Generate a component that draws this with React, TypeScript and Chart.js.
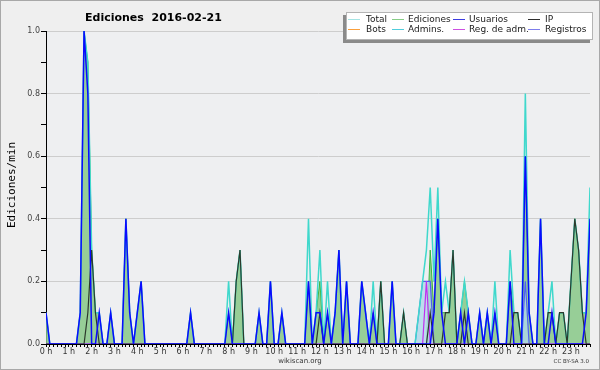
import React, { useEffect, useRef } from 'react';
import { Chart, registerables } from 'chart.js';

Chart.register(...registerables);

const TITLE = 'Ediciones  2016-02-21';
const Y_TITLE = 'Ediciones/min';
const FOOTER = 'wikiscan.org';
const LICENSE = 'CC BY-SA 3.0';

const HOUR_LABELS = [
  '0 h', '1 h', '2 h', '3 h', '4 h', '5 h', '6 h', '7 h', '8 h', '9 h', '10 h', '11 h',
  '12 h', '13 h', '14 h', '15 h', '16 h', '17 h', '18 h', '19 h', '20 h', '21 h', '22 h', '23 h',
];
const Y_LABELS = ['0.0', '0.2', '0.4', '0.6', '0.8', '1.0'];

const LEGEND_NAMES = ['Total', 'Ediciones', 'Usuarios', 'IP', 'Bots', 'Admins.', 'Reg. de adm.', 'Registros'];
const LEGEND_COLORS = [
  'rgb(165,228,228)', 'rgb(135,205,135)', 'rgb(60,60,225)', 'rgb(45,45,45)',
  'rgb(250,160,60)', 'rgb(80,205,220)', 'rgb(205,80,225)', 'rgb(125,125,235)',
];

// edits per minute, one value per 10-minute slot (12 values = 2 hours per row)
const total = [
  0.1, 0, 0, 0, 0, 0, 0, 0, 0, 0.1, 1.0, 0.9,
  0.3, 0.1, 0.1, 0, 0, 0.1, 0, 0, 0, 0.4, 0.1, 0,
  0.1, 0.2, 0, 0, 0, 0, 0, 0, 0, 0, 0, 0,
  0, 0, 0.1, 0, 0, 0, 0, 0, 0, 0, 0, 0,
  0.2, 0, 0.2, 0.3, 0, 0, 0, 0, 0.1, 0, 0, 0.2,
  0, 0, 0.1, 0, 0, 0, 0, 0, 0, 0.4, 0, 0.1,
  0.3, 0, 0.2, 0, 0.1, 0.3, 0, 0.2, 0, 0, 0, 0.2,
  0.1, 0, 0.2, 0, 0.2, 0, 0, 0.2, 0, 0, 0.1, 0,
  0, 0, 0.1, 0.2, 0.3, 0.5, 0.2, 0.5, 0.1, 0.2, 0.1, 0.3,
  0, 0.1, 0.2, 0.1, 0, 0, 0.1, 0, 0.1, 0, 0.2, 0,
  0, 0, 0.3, 0.1, 0.1, 0, 0.8, 0.1, 0, 0, 0.4, 0,
  0.1, 0.2, 0, 0.1, 0.1, 0, 0.2, 0.4, 0.3, 0.1, 0.1, 0.5,
];

const ediciones = [
  0.1, 0, 0, 0, 0, 0, 0, 0, 0, 0.1, 1.0, 0.9,
  0.3, 0.1, 0.1, 0, 0, 0.1, 0, 0, 0, 0.4, 0.1, 0,
  0.1, 0.2, 0, 0, 0, 0, 0, 0, 0, 0, 0, 0,
  0, 0, 0.1, 0, 0, 0, 0, 0, 0, 0, 0, 0,
  0.1, 0, 0.2, 0.3, 0, 0, 0, 0, 0.1, 0, 0, 0.2,
  0, 0, 0.1, 0, 0, 0, 0, 0, 0, 0.2, 0, 0.1,
  0.2, 0, 0.1, 0, 0.1, 0.3, 0, 0.2, 0, 0, 0, 0.2,
  0.1, 0, 0.1, 0, 0.2, 0, 0, 0.2, 0, 0, 0.1, 0,
  0, 0, 0, 0, 0, 0.3, 0.1, 0.4, 0.1, 0.1, 0.1, 0.3,
  0, 0.1, 0.2, 0.1, 0, 0, 0.1, 0, 0.1, 0, 0.1, 0,
  0, 0, 0.2, 0.1, 0.1, 0, 0.6, 0.1, 0, 0, 0.4, 0,
  0.1, 0.1, 0, 0.1, 0.1, 0, 0.2, 0.4, 0.3, 0.1, 0.1, 0.4,
];

const usuarios = [
  0.1, 0, 0, 0, 0, 0, 0, 0, 0, 0.1, 1.0, 0.8,
  0, 0, 0.1, 0, 0, 0.1, 0, 0, 0, 0.4, 0.1, 0,
  0.1, 0.2, 0, 0, 0, 0, 0, 0, 0, 0, 0, 0,
  0, 0, 0.1, 0, 0, 0, 0, 0, 0, 0, 0, 0,
  0.1, 0, 0, 0, 0, 0, 0, 0, 0.1, 0, 0, 0.2,
  0, 0, 0.1, 0, 0, 0, 0, 0, 0, 0.2, 0, 0.1,
  0.1, 0, 0.1, 0, 0.1, 0.3, 0, 0.2, 0, 0, 0, 0.2,
  0.1, 0, 0.1, 0, 0, 0, 0, 0.2, 0, 0, 0, 0,
  0, 0, 0, 0, 0, 0, 0.1, 0.4, 0.1, 0, 0, 0,
  0, 0.1, 0, 0.1, 0, 0, 0.1, 0, 0.1, 0, 0.1, 0,
  0, 0, 0.2, 0, 0, 0, 0.6, 0.1, 0, 0, 0.4, 0,
  0, 0.1, 0, 0, 0, 0, 0, 0, 0, 0, 0.1, 0.4,
];

const ip = [
  0, 0, 0, 0, 0, 0, 0, 0, 0, 0, 0, 0.1,
  0.3, 0.1, 0, 0, 0, 0, 0, 0, 0, 0, 0, 0,
  0, 0, 0, 0, 0, 0, 0, 0, 0, 0, 0, 0,
  0, 0, 0, 0, 0, 0, 0, 0, 0, 0, 0, 0,
  0, 0, 0.2, 0.3, 0, 0, 0, 0, 0, 0, 0, 0,
  0, 0, 0, 0, 0, 0, 0, 0, 0, 0, 0, 0,
  0.1, 0, 0, 0, 0, 0, 0, 0, 0, 0, 0, 0,
  0, 0, 0, 0, 0.2, 0, 0, 0, 0, 0, 0.1, 0,
  0, 0, 0, 0, 0, 0.1, 0, 0, 0, 0.1, 0.1, 0.3,
  0, 0, 0.1, 0, 0, 0, 0, 0, 0, 0, 0, 0,
  0, 0, 0, 0.1, 0.1, 0, 0, 0, 0, 0, 0, 0,
  0.1, 0.1, 0, 0.1, 0.1, 0, 0.2, 0.4, 0.3, 0.1, 0, 0,
];

const regAdm = [
  0, 0, 0, 0, 0, 0, 0, 0, 0, 0, 0, 0,
  0, 0, 0, 0, 0, 0, 0, 0, 0, 0, 0, 0,
  0, 0, 0, 0, 0, 0, 0, 0, 0, 0, 0, 0,
  0, 0, 0, 0, 0, 0, 0, 0, 0, 0, 0, 0,
  0, 0, 0, 0, 0, 0, 0, 0, 0, 0, 0, 0,
  0, 0, 0, 0, 0, 0, 0, 0, 0, 0, 0, 0,
  0, 0, 0, 0, 0, 0, 0, 0, 0, 0, 0, 0,
  0, 0, 0, 0, 0, 0, 0, 0, 0, 0, 0, 0,
  0, 0, 0, 0, 0.2, 0, 0, 0, 0, 0, 0, 0,
  0, 0, 0, 0, 0, 0, 0, 0, 0, 0, 0, 0,
  0, 0, 0, 0, 0, 0, 0, 0, 0, 0, 0, 0,
  0, 0, 0, 0, 0, 0, 0, 0, 0, 0, 0, 0,
];

const registros = [
  0, 0, 0, 0, 0, 0, 0, 0, 0, 0, 0, 0,
  0, 0, 0, 0, 0, 0, 0, 0, 0, 0, 0, 0,
  0, 0, 0, 0, 0, 0, 0, 0, 0, 0, 0, 0,
  0, 0, 0, 0, 0, 0, 0, 0, 0, 0, 0, 0,
  0, 0, 0, 0, 0, 0, 0, 0, 0, 0, 0, 0,
  0, 0, 0, 0, 0, 0, 0, 0, 0, 0, 0, 0,
  0, 0, 0, 0, 0, 0, 0, 0, 0, 0, 0, 0,
  0, 0, 0, 0, 0, 0, 0, 0, 0, 0, 0, 0,
  0, 0, 0.1, 0.2, 0.2, 0.2, 0, 0, 0, 0, 0, 0,
  0, 0, 0, 0, 0, 0, 0, 0, 0, 0, 0, 0,
  0, 0, 0, 0, 0, 0, 0.2, 0, 0, 0, 0, 0,
  0, 0, 0, 0, 0, 0, 0, 0, 0, 0, 0, 0,
];

const LEGEND_COL_X = [348, 392, 453, 528];
const LEGEND_TEXT_DX = [18, 16, 16, 17];
const LEGEND_ROW_Y = [19, 29];

const decor = {
  id: 'decor',
  beforeDraw(chart: any) {
    const { ctx, chartArea: a, width, height } = chart;
    ctx.save();
    ctx.fillStyle = '#efefef';
    ctx.fillRect(0, 0, width, height);
    ctx.fillStyle = '#eeeff1';
    ctx.fillRect(a.left, a.top, a.right - a.left, a.bottom - a.top);
    ctx.strokeStyle = '#a8a8a8';
    ctx.lineWidth = 1;
    ctx.strokeRect(0.5, 0.5, width - 1, height - 1);
    ctx.restore();
  },
  afterDraw(chart: any) {
    const { ctx } = chart;
    ctx.save();
    // title
    ctx.fillStyle = '#000';
    ctx.font = 'bold 11px "DejaVu Sans"';
    ctx.textBaseline = 'alphabetic';
    ctx.textAlign = 'left';
    ctx.fillText(TITLE, 85, 21);
    // y title
    ctx.save();
    ctx.translate(12, 185);
    ctx.rotate(-Math.PI / 2);
    ctx.textAlign = 'center';
    ctx.textBaseline = 'middle';
    ctx.font = '11px "DejaVu Sans Mono"';
    ctx.fillText(Y_TITLE, 0, 0);
    ctx.restore();
    // footer
    ctx.fillStyle = '#333';
    ctx.font = '7px "DejaVu Sans"';
    ctx.textAlign = 'center';
    ctx.textBaseline = 'middle';
    ctx.fillText(FOOTER, 300, 361);
    ctx.font = '5.5px "DejaVu Sans"';
    ctx.textAlign = 'right';
    ctx.fillText(LICENSE, 589, 362);
    // legend
    ctx.fillStyle = '#8a8a8a';
    ctx.fillRect(343, 15, 247, 28);
    ctx.fillStyle = '#ffffff';
    ctx.fillRect(346, 12, 247, 28);
    ctx.strokeStyle = '#b4b4b4';
    ctx.strokeRect(346.5, 12.5, 246, 27);
    ctx.font = '9px "DejaVu Sans"';
    ctx.textAlign = 'left';
    ctx.textBaseline = 'middle';
    LEGEND_NAMES.forEach((name, k) => {
      const col = k % 4;
      const row = Math.floor(k / 4);
      const x = LEGEND_COL_X[col];
      const y = LEGEND_ROW_Y[row];
      ctx.strokeStyle = LEGEND_COLORS[k];
      ctx.lineWidth = 1;
      ctx.beginPath();
      ctx.moveTo(x, y + 0.5);
      ctx.lineTo(x + 12, y + 0.5);
      ctx.stroke();
      ctx.fillStyle = '#1a1a1a';
      ctx.fillText(name, x + LEGEND_TEXT_DX[col], y + 0.5);
    });
    ctx.restore();
  },
};

const pts = (arr: number[]) => arr.map((v, i) => ({ x: i, y: v }));

export default function App() {
  const ref = useRef<HTMLCanvasElement>(null);
  useEffect(() => {
    document.body.style.margin = '0';
    const chart = new Chart(ref.current as HTMLCanvasElement, {
      type: 'line',
      data: {
        datasets: [
          {
            label: 'Usuarios', data: pts(usuarios), borderColor: '#0a0aff', borderWidth: 1.5,
            fill: false, order: 1,
          },
          {
            label: 'IP', data: pts(ip), borderColor: '#2c3a2c', borderWidth: 1.2,
            fill: false, order: 2,
          },
          {
            label: 'Reg. de adm.', data: pts(regAdm), borderColor: '#c030f0', borderWidth: 1.2,
            fill: false, order: 3,
          },
          {
            label: 'Total', data: pts(total), borderColor: '#3fd8cc', borderWidth: 1.5,
            fill: false, order: 4,
          },
          {
            label: 'Registros', data: pts(registros), borderColor: '#5060f0', borderWidth: 1.2,
            backgroundColor: 'rgba(175,215,235,0.8)', fill: 'origin', order: 5,
          },
          {
            label: 'Ediciones', data: pts(ediciones), borderColor: '#3cb43c', borderWidth: 1,
            backgroundColor: 'rgba(135,200,135,0.85)', fill: 'origin', order: 6,
          },
        ] as any,
      },
      options: {
        animation: false,
        responsive: false,
        maintainAspectRatio: false,
        devicePixelRatio: 1,
        layout: { padding: { top: 31, right: 10, left: 0, bottom: 0 } },
        elements: { point: { radius: 0 }, line: { tension: 0 } },
        plugins: {
          legend: { display: false },
          title: { display: false },
          tooltip: { enabled: false },
        },
        scales: {
          x: {
            type: 'linear',
            min: 0,
            max: 143,
            afterFit: (s: any) => { s.height = 26; },
            ticks: {
              stepSize: 1,
              autoSkip: false,
              maxRotation: 0,
              padding: 0,
              color: '#333',
              font: { family: 'DejaVu Sans', size: 8 },
              callback: (v: any) => (v % 6 === 0 ? HOUR_LABELS[v / 6] : ''),
            },
            grid: { drawOnChartArea: false, tickLength: 3, color: '#000' },
            border: { color: '#000', width: 1 },
          },
          y: {
            min: 0,
            max: 1,
            afterFit: (s: any) => { s.width = 46; },
            ticks: {
              stepSize: 0.1,
              autoSkip: false,
              padding: 1,
              color: '#444',
              font: { family: 'DejaVu Sans', size: 8 },
              callback: (v: any) => {
                const k = Math.round(v * 10);
                return k % 2 === 0 ? Y_LABELS[k / 2] : '';
              },
            },
            grid: {
              tickLength: 5,
              tickColor: '#000',
              color: (c: any) => {
                const k = Math.round(c.tick.value * 10);
                return k % 2 === 0 && k > 0 ? '#cdcdcd' : 'rgba(0,0,0,0)';
              },
            },
            border: { color: '#000', width: 1 },
          },
        },
      } as any,
      plugins: [decor],
    });
    return () => chart.destroy();
  }, []);
  return (
    <div style={{ width: 600, height: 370 }}>
      <canvas ref={ref} width={600} height={370} style={{ display: 'block' }} />
    </div>
  );
}
